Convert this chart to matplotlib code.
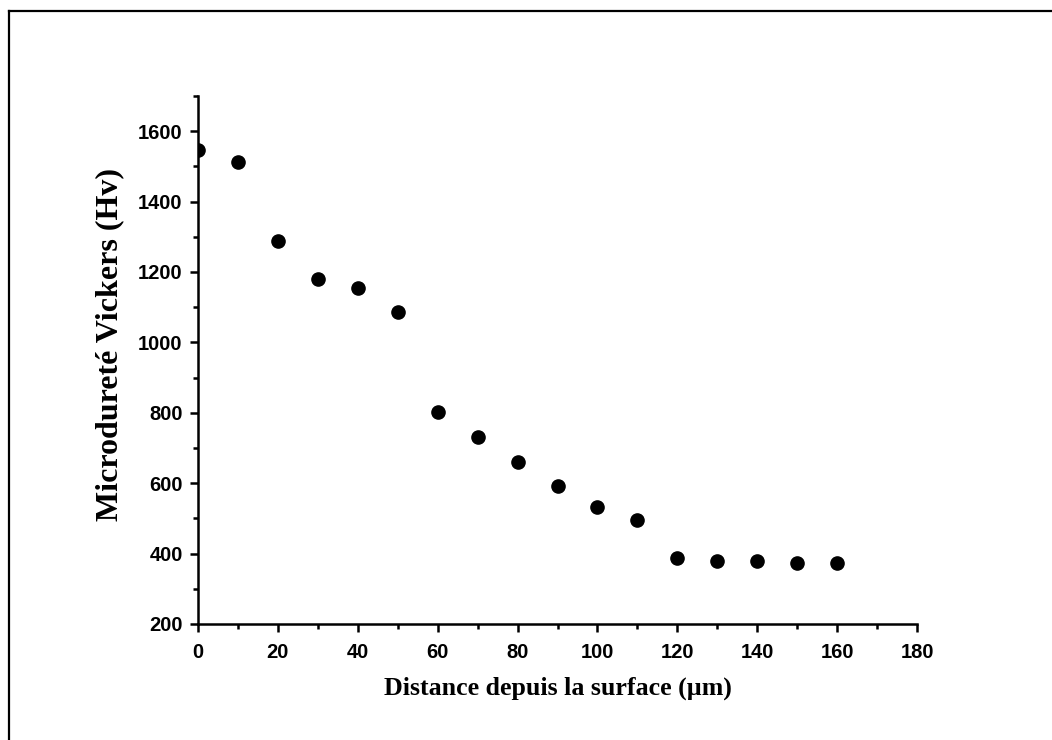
import matplotlib
matplotlib.use("Agg")
import matplotlib.pyplot as plt
from matplotlib.lines import Line2D
from matplotlib.ticker import MultipleLocator

# --- DONNÉES ---
distance_um = [0, 10, 20, 30, 40, 50, 60, 70, 80, 90, 100, 110, 120, 130, 140, 150, 160]
durete_hv = [1547, 1513, 1288, 1180, 1155, 1086, 801, 731, 660, 591, 531, 495, 386, 379, 379, 374, 373]

x_ticks = [0, 20, 40, 60, 80, 100, 120, 140, 160, 180]
y_ticks = [200, 400, 600, 800, 1000, 1200, 1400, 1600]

fig = plt.figure(figsize=(10.52, 7.40), dpi=100)
ax = fig.add_axes([0.1882, 0.1568, 0.6835, 0.7135])

ax.plot(distance_um, durete_hv, linestyle='none', marker='o', color='black',
        markersize=9.5, zorder=3)

ax.set_xlim(0, 180)
ax.set_ylim(200, 1700)
ax.set_xticks(x_ticks)
ax.set_yticks(y_ticks)
ax.xaxis.set_minor_locator(MultipleLocator(10))
ax.yaxis.set_minor_locator(MultipleLocator(100))

for s in ['top', 'right']:
    ax.spines[s].set_visible(False)
for s in ['left', 'bottom']:
    ax.spines[s].set_linewidth(1.8)

ax.tick_params(which='major', direction='out', length=6, width=1.8, pad=5)
ax.tick_params(which='minor', direction='out', length=3.8, width=1.8)
ax.tick_params(axis='x', which='major', pad=8)
for lab in ax.get_xticklabels() + ax.get_yticklabels():
    lab.set_fontfamily('Liberation Sans')
    lab.set_fontweight('bold')
    lab.set_fontsize(14.5)

ax.set_xlabel("Distance depuis la surface (µm)", fontfamily='Liberation Serif',
              fontweight='bold', fontsize=18.6, labelpad=10)
ax.set_ylabel("Microdureté Vickers (Hv)", fontfamily='Liberation Serif',
              fontweight='bold', fontsize=23)
ax.yaxis.set_label_coords(-0.102, 0.53)

# cadre partiel autour de l'image
fig.add_artist(Line2D([0.0086, 1.0], [0.985, 0.985], color='black', lw=1.6,
                      transform=fig.transFigure))
fig.add_artist(Line2D([0.0086, 0.0086], [0.0, 0.985], color='black', lw=1.6,
                      transform=fig.transFigure))

fig.savefig("out.png", dpi=100)
